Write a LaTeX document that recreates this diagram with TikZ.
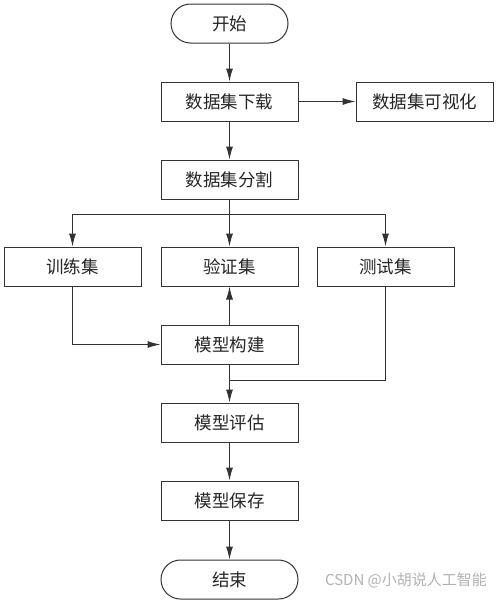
\documentclass[tikz,border=0pt]{standalone}
\usepackage{fontspec}
\newfontfamily\cjk{Noto Sans CJK SC}
\usetikzlibrary{arrows.meta, shapes.misc}

\tikzset{
	stepbox/.style={draw=black!80, line width=1pt, minimum width=137pt, minimum height=39pt, inner sep=0pt, text=black!85, font=\cjk\fontsize{17.5}{17.5}\selectfont},
	termbox/.style={stepbox, rounded rectangle},
	flow/.style={-{Latex[length=13pt,width=7pt]}, draw=black!80, line width=1pt},
	plain/.style={draw=black!80, line width=1pt},
}

\begin{document}
\begin{tikzpicture}[x=1pt, y=-1pt]
					\def\xMID{229.5};
					\def\xL{72.5};
					\def\xR{385.5};

					\useasboundingbox[fill=white] (0,0) rectangle (500,605);

					\begin{scope}
						\node [termbox, minimum width=117pt] (start) at (\xMID,23.5) {开始};
						\node [stepbox] (load) at (\xMID,101.5) {数据集下载};
						\node [stepbox] (show) at (424.5,101.5) {数据集可视化};
						\node [stepbox] (split) at (\xMID,179.5) {数据集分割};
						\node [stepbox] (train) at (\xL,266.5) {训练集};
						\node [stepbox] (val) at (\xMID,266.5) {验证集};
						\node [stepbox] (test) at (\xR,266.5) {测试集};
						\node [stepbox] (build) at (\xMID,344.5) {模型构建};
						\node [stepbox] (eval) at (\xMID,422.5) {模型评估};
						\node [stepbox] (save) at (\xMID,500.5) {模型保存};
						\node [termbox] (stop) at (\xMID,579.5) {结束};
					\end{scope}

					\coordinate (fork) at (\xMID,214);
					\coordinate (join) at (\xMID,380);

					\begin{scope}[flow]
						\draw (start) -- (load);
						\draw (load) -- (show);
						\draw (load) -- (split);
						\draw (fork) -- (val);
						\draw (fork) -| (train);
						\draw (fork) -| (test);
						\draw (train.south) |- (build.west);
						\draw (build) -- (val);
						\draw (build) -- (eval);
						\draw (eval) -- (save);
						\draw (save) -- (stop);
					\end{scope}

					\begin{scope}[plain]
						\draw (split) -- (fork);
						\draw (test.south) |- (join);
					\end{scope}

					\node [text=black!30, font=\cjk\fontsize{15}{15}\selectfont] (mark) at (406,580) {CSDN @小胡说人工智能};
				\end{tikzpicture}
\end{document}
